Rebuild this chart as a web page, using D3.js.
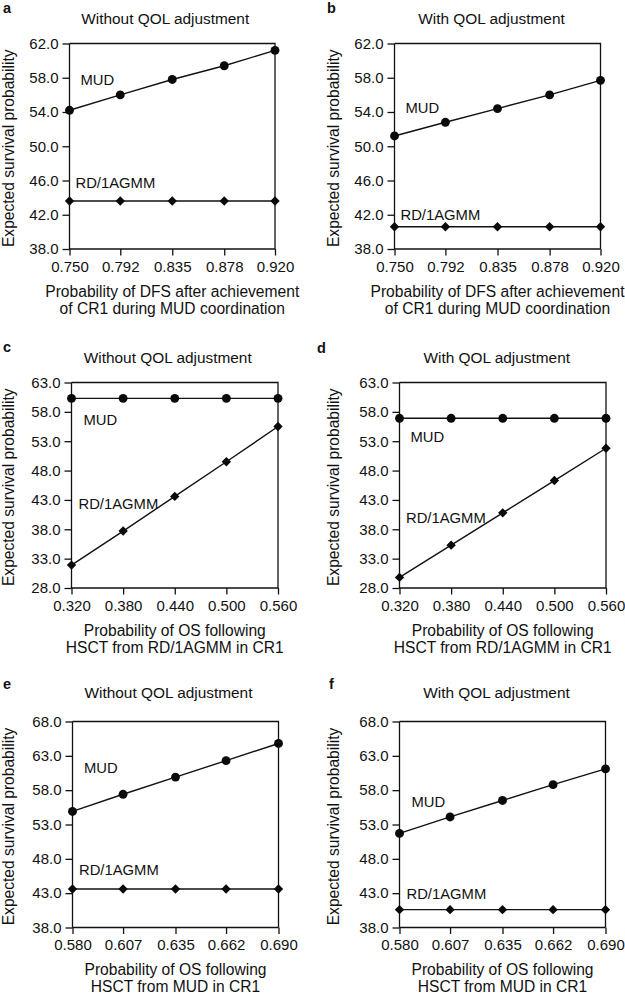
<!DOCTYPE html>
<html><head><meta charset="utf-8">
<script src="https://cdn.jsdelivr.net/npm/d3@7"></script>
<style>
html,body{margin:0;padding:0;background:#fff;}
svg{display:block;font-family:"Liberation Sans",Arial,Helvetica,sans-serif;}
</style></head>
<body>
<svg id="chart" width="625" height="997"></svg>
<script>
// ---------- data ----------
const panelLetters = ["a", "b", "c", "d", "e", "f"];
const panelTitles = ["Without QOL adjustment", "With QOL adjustment",
  "Without QOL adjustment", "With QOL adjustment",
  "Without QOL adjustment", "With QOL adjustment"];
const xLabelsDFS = ["Probability of DFS after achievement", "of CR1 during MUD coordination"];
const xLabelsOSRD = ["Probability of OS following", "HSCT from RD/1AGMM in CR1"];
const xLabelsOSMUD = ["Probability of OS following", "HSCT from MUD in CR1"];
const yLabel = "Expected survival probability";
const seriesNames = ["MUD", "RD/1AGMM"];

const xTicksDFS = [0.750, 0.792, 0.835, 0.878, 0.920];
const xTicksOSRD = [0.320, 0.380, 0.440, 0.500, 0.560];
const xTicksOSMUD = [0.580, 0.607, 0.635, 0.662, 0.690];
const yTicksAB = [38, 42, 46, 50, 54, 58, 62];
const yTicksCD = [28, 33, 38, 43, 48, 53, 58, 63];
const yTicksEF = [38, 43, 48, 53, 58, 63, 68];

const mudA = [54.2, 56.0, 57.8, 59.4, 61.2];
const rdA  = [43.6, 43.6, 43.6, 43.6, 43.6];
const mudB = [51.2, 52.8, 54.4, 56.0, 57.7];
const rdB  = [40.6, 40.6, 40.6, 40.6, 40.6];
const mudC = [60.3, 60.3, 60.3, 60.3, 60.3];
const rdC  = [31.9, 37.7, 43.6, 49.5, 55.5];
const mudD = [56.9, 56.9, 56.9, 56.9, 56.9];
const rdD  = [29.8, 35.3, 40.8, 46.3, 51.8];
const mudE = [54.9, 57.4, 59.9, 62.3, 64.8];
const rdE  = [43.6, 43.6, 43.6, 43.6, 43.6];
const mudF = [51.7, 54.1, 56.5, 58.8, 61.1];
const rdF  = [40.6, 40.6, 40.6, 40.6, 40.6];

// ---------- layout ----------
const panels = [
  {xt: xTicksDFS, yt: yTicksAB, mud: mudA, rd: rdA, xl: xLabelsDFS,
   L: 69.5, T: 43.5, R: 275, B: 249, letter: [3, 13], titleY: 23.5, titleDx: -7, ylabX: 13.5,
   mudLab: [11, 57.1], rdLab: [6, 45.1]},
  {xt: xTicksDFS, yt: yTicksAB, mud: mudB, rd: rdB, xl: xLabelsDFS,
   L: 394.5, T: 43.5, R: 600.5, B: 249, letter: [327, 13], titleY: 23.5, titleDx: -6, ylabX: 338.5,
   mudLab: [11, 53.9], rdLab: [6, 41.4]},
  {xt: xTicksOSRD, yt: yTicksCD, mud: mudC, rd: rdC, xl: xLabelsOSRD,
   L: 71.5, T: 382.5, R: 278, B: 588, letter: [3, 351.5], titleY: 363.3, titleDx: -7, ylabX: 13.5,
   mudLab: [12, 55.7], rdLab: [7, 41.4]},
  {xt: xTicksOSRD, yt: yTicksCD, mud: mudD, rd: rdD, xl: xLabelsOSRD,
   L: 399.5, T: 382.5, R: 606, B: 588, letter: [317, 352.5], titleY: 363.3, titleDx: -6, ylabX: 338.5,
   mudLab: [11, 52.9], rdLab: [6.5, 39.0]},
  {xt: xTicksOSMUD, yt: yTicksEF, mud: mudE, rd: rdE, xl: xLabelsOSMUD,
   L: 72.5, T: 721.5, R: 278.5, B: 927.5, letter: [3, 688.5], titleY: 698.3, titleDx: -7, ylabX: 13.5,
   mudLab: [11.5, 60.5], rdLab: [6.5, 45.6]},
  {xt: xTicksOSMUD, yt: yTicksEF, mud: mudF, rd: rdF, xl: xLabelsOSMUD,
   L: 399.5, T: 721.5, R: 605.5, B: 927.5, letter: [329, 688.5], titleY: 698.3, titleDx: -6, ylabX: 338.5,
   mudLab: [12, 55.6], rdLab: [7, 42.2]}
];

const ink = "#111";
const svg = d3.select("#chart");
const fmtY = d3.format(".1f"), fmtX = d3.format(".3f");
const circleSym = d3.symbol().type(d3.symbolCircle).size(62);
const diamondSym = d3.symbol().type(d3.symbolSquare).size(44);

panels.forEach((p, i) => {
  const g = svg.append("g");
  const x = d3.scaleLinear().domain(d3.extent(p.xt)).range([p.L, p.R]);
  const y = d3.scaleLinear().domain(d3.extent(p.yt)).range([p.B, p.T]);

  // panel letter
  g.append("text").attr("x", p.letter[0]).attr("y", p.letter[1])
    .attr("font-size", 14.5).attr("font-weight", "bold").attr("fill", ink)
    .text(panelLetters[i]);
  // title
  g.append("text").attr("x", (p.L + p.R) / 2 + p.titleDx).attr("y", p.titleY)
    .attr("text-anchor", "middle").attr("font-size", 15.4).attr("fill", ink)
    .text(panelTitles[i]);

  // frame (top/right)
  g.append("path")
    .attr("d", `M${p.L},${p.T}H${p.R}V${p.B}`)
    .attr("fill", "none").attr("stroke", ink).attr("stroke-width", 1.3);

  // axes
  const xAxis = d3.axisBottom(x).tickValues(p.xt).tickFormat(fmtX).tickSize(6.5).tickPadding(5.5);
  const yAxis = d3.axisLeft(y).tickValues(p.yt).tickFormat(fmtY).tickSize(7).tickPadding(4);
  const gx = g.append("g").attr("transform", `translate(0,${p.B})`).call(xAxis);
  const gy = g.append("g").attr("transform", `translate(${p.L},0)`).call(yAxis);
  [gx, gy].forEach(a => {
    a.select(".domain").attr("stroke", ink).attr("stroke-width", 1.3);
    a.selectAll(".tick line").attr("stroke", ink).attr("stroke-width", 1.3);
    a.selectAll(".tick text").attr("fill", ink).attr("font-size", 15)
      .attr("font-family", "'Liberation Sans',Arial,Helvetica,sans-serif");
  });
  gx.select(".domain").attr("d", `M${p.L},0H${p.R}`);
  gy.select(".domain").attr("d", `M0,${p.B}V${p.T}`);

  // x label (two lines)
  p.xl.forEach((t, k) => {
    g.append("text").attr("x", (p.L + p.R) / 2).attr("y", p.B + 47.5 + k * 17)
      .attr("text-anchor", "middle").attr("font-size", 15.6).attr("fill", ink).text(t);
  });
  // y label
  g.append("text")
    .attr("transform", `translate(${p.ylabX},${(p.T + p.B) / 2 + 2}) rotate(-90)`)
    .attr("text-anchor", "middle").attr("font-size", 15.6).attr("fill", ink).text(yLabel);

  // series
  const line = d3.line().x((d, j) => x(p.xt[j])).y(d => y(d));
  [p.mud, p.rd].forEach((s, si) => {
    g.append("path").datum(s).attr("d", line)
      .attr("fill", "none").attr("stroke", ink).attr("stroke-width", 1.4);
    g.selectAll(null).data(s).enter().append("path")
      .attr("d", si === 0 ? circleSym : diamondSym)
      .attr("transform", (d, j) => `translate(${x(p.xt[j])},${y(d)})` + (si === 1 ? " rotate(45)" : ""))
      .attr("fill", "#0a0a0a");
  });

  // series labels
  g.append("text").attr("x", p.L + p.mudLab[0]).attr("y", y(p.mudLab[1]))
    .attr("font-size", 14.8).attr("fill", ink).text(seriesNames[0]);
  g.append("text").attr("x", p.L + p.rdLab[0]).attr("y", y(p.rdLab[1]))
    .attr("font-size", 14.8).attr("fill", ink).text(seriesNames[1]);
});
</script>
</body></html>
